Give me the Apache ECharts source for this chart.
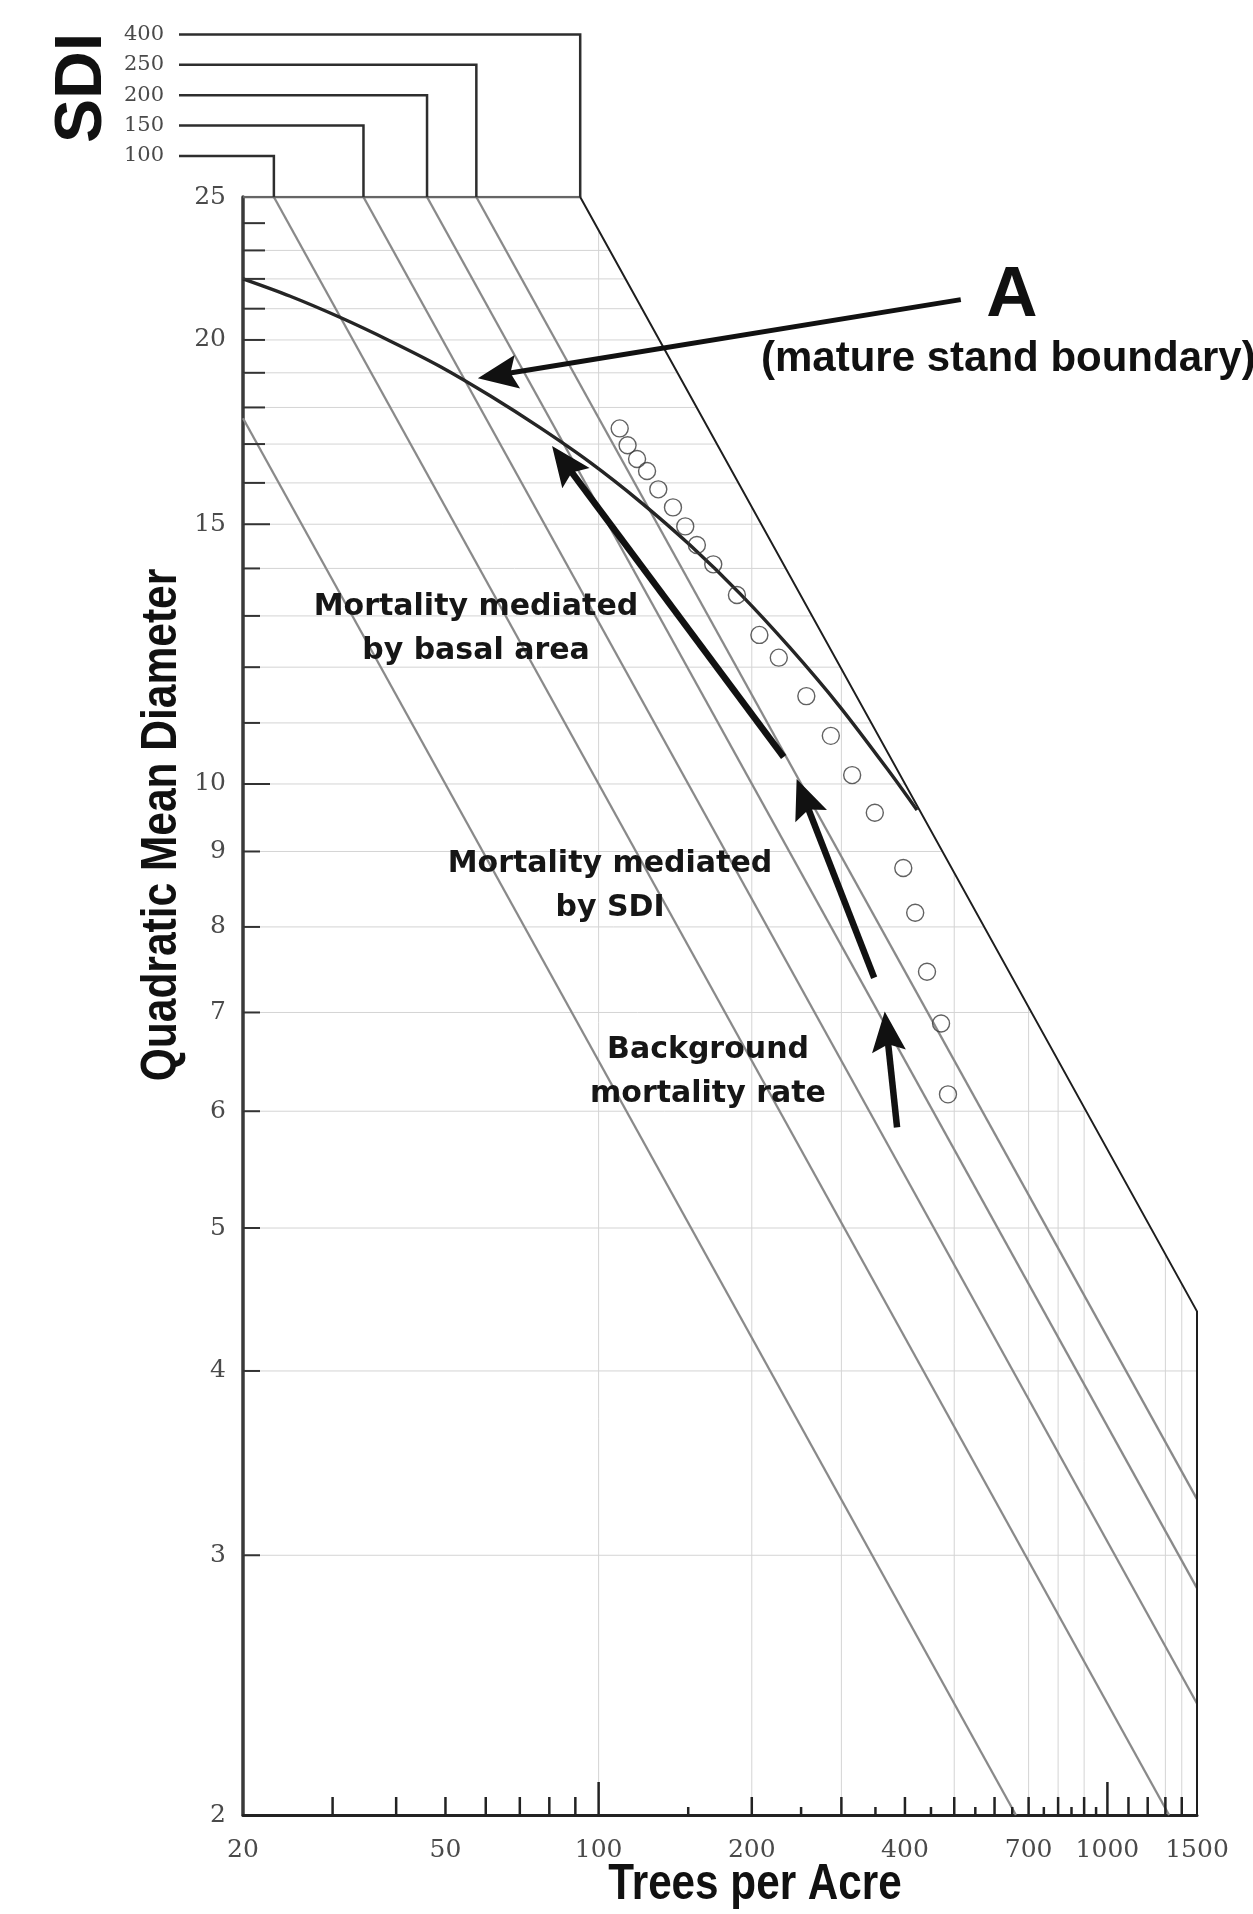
<!DOCTYPE html>
<html>
<head>
<meta charset="utf-8">
<title>SDI – Quadratic Mean Diameter vs Trees per Acre</title>
<script src="https://cdn.jsdelivr.net/npm/echarts@6.0.0/dist/echarts.min.js"></script>
<style>
html,body{margin:0;padding:0;background:#ffffff;}
#chart{width:1253px;height:1914px;}
</style>
</head>
<body>
<div id="chart"></div>
<script>
// ---------------- values ----------------
const xLabelValues = [20, 50, 100, 200, 400, 700, 1000, 1500];
const yLabelValues = [2, 3, 4, 5, 6, 7, 8, 9, 10, 15, 20, 25];
const xTicksMajor = [100, 1000];
const xTicksMid = [30, 40, 50, 60, 70, 80, 90, 200, 300, 400, 500, 600, 700, 800, 900, 1100, 1200, 1300, 1400];
const xTicksMinor = [150, 250, 350, 450, 550, 650, 750, 850, 950];
const yTicksLong = [10, 15];
const yTicksMid = [16, 17, 18, 19, 20, 21, 22, 23, 24];
const yTicksShort = [3, 4, 5, 6, 7, 8, 9, 11, 12, 13, 14];
const xGridValues = [100, 200, 300, 500, 700, 800, 900, 1300, 1400];
const yGridValues = [3, 4, 5, 6, 7, 8, 9, 10, 11, 12, 13, 14, 15, 16, 17, 18, 19, 20, 21, 22, 23];

// SDI legend (top) and the TPA where each SDI line meets QMD = 25
const sdiLegendValues = [100, 150, 200, 250, 400];
const sdiLegendTPA = [23, 34.5, 46, 57.5, 92];

// gray SDI reference lines (SDI 50, 100, 150, 200, 250): start / end points
const sdiLineStart = [[20, 17.7], [23, 25], [34.5, 25], [46, 25], [57.5, 25]];
const sdiLineEnd = [[661, 2], [1322, 2], [1500, 2.38], [1500, 2.85], [1500, 3.275]];

// maximum SDI (400) boundary and frame
const maxSdiBoundary = [[92, 25], [1500, 4.39], [1500, 2]];
const frameTop = [[20, 25], [92, 25]];

// curve A (mature stand boundary)
const matureBoundary = [[20, 22.0], [24.7, 21.42], [31.0, 20.72], [38.9, 19.97], [48.8, 19.19], [61.2, 18.33],
  [76.7, 17.44], [96.2, 16.52], [120.6, 15.54], [151.2, 14.52], [189.6, 13.46], [237.7, 12.37],
  [298.1, 11.28], [373.8, 10.18], [422.4, 9.60]];

// open circles (stand trajectory)
const standTPA = [110, 114, 119, 124.5, 131, 140, 148, 156, 168, 187, 207, 226, 256, 286, 315, 349, 397, 419, 442, 471, 486];
const standQMD = [17.42, 16.97, 16.61, 16.30, 15.84, 15.40, 14.95, 14.52, 14.09, 13.43, 12.62, 12.18, 11.47, 10.78, 10.14, 9.56, 8.77, 8.18, 7.46, 6.88, 6.16];

// annotation arrows: tail and tip (TPA, QMD)
const arrowTail = [[515, 21.3], [231, 10.43], [348, 7.39], [386, 5.85]];
const arrowTip = [[57.9, 18.84], [81, 16.95], [245, 10.08], [365, 7.01]];

// ---------------- helpers ----------------
const X_MIN = 20, X_MAX = 1500, Y_MIN = 2, Y_MAX = 25;
const SERIF = '"DejaVu Serif", "Liberation Serif", serif';

function boundaryTPAatQ(q) {
  const a = maxSdiBoundary[0], b = maxSdiBoundary[1];
  const t = (Math.log(q) - Math.log(a[1])) / (Math.log(b[1]) - Math.log(a[1]));
  return Math.exp(Math.log(a[0]) + t * (Math.log(b[0]) - Math.log(a[0])));
}
function boundaryQatTPA(tpa) {
  const a = maxSdiBoundary[0], b = maxSdiBoundary[1];
  const t = (Math.log(tpa) - Math.log(a[0])) / (Math.log(b[0]) - Math.log(a[0]));
  return Math.exp(Math.log(a[1]) + t * (Math.log(b[1]) - Math.log(a[1])));
}
function seg(api, a, b, style) {
  const p = api.coord(a), q = api.coord(b);
  return { type: 'line', shape: { x1: p[0], y1: p[1], x2: q[0], y2: q[1] }, style: style };
}
function customSeries(data, z, render, extra) {
  return Object.assign({
    type: 'custom', coordinateSystem: 'cartesian2d', silent: true, z: z,
    data: data, renderItem: render, animation: false
  }, extra || {});
}
function xTickSeries(values, len) {
  return customSeries(values.map(v => [v, Y_MIN]), 8, function (params, api) {
    const p = api.coord([api.value(0), Y_MIN]);
    return { type: 'line', shape: { x1: p[0], y1: p[1], x2: p[0], y2: p[1] - len },
      style: { stroke: '#222', lineWidth: 2.5 } };
  });
}
function yTickSeries(values, len) {
  return customSeries(values.map(v => [X_MIN, v]), 8, function (params, api) {
    const p = api.coord([X_MIN, api.value(1)]);
    return { type: 'line', shape: { x1: p[0], y1: p[1], x2: p[0] + len, y2: p[1] },
      style: { stroke: '#333', lineWidth: 2 } };
  });
}

const series = [
  // horizontal gridlines (clipped at the max-SDI boundary)
  customSeries(yGridValues.map(v => [X_MIN, v]), 1, function (params, api) {
    const q = api.value(1);
    const xe = Math.min(X_MAX, boundaryTPAatQ(q));
    return seg(api, [X_MIN, q], [xe, q], { stroke: '#d4d4d4', lineWidth: 1 });
  }),
  // vertical gridlines
  customSeries(xGridValues.map(v => [v, Y_MIN]), 1, function (params, api) {
    const t = api.value(0);
    const qe = Math.min(Y_MAX, boundaryQatTPA(t));
    return seg(api, [t, Y_MIN], [t, qe], { stroke: '#d4d4d4', lineWidth: 1 });
  }),
  // gray SDI lines
  customSeries(sdiLineStart.map((s, i) => [s[0], s[1], sdiLineEnd[i][0], sdiLineEnd[i][1]]), 2,
    function (params, api) {
      return seg(api, [api.value(0), api.value(1)], [api.value(2), api.value(3)],
        { stroke: '#8a8a8a', lineWidth: 2.3 });
    }, { dimensions: ['x', 'y', 'x2', 'y2'], encode: { x: 0, y: 1 } }),
  // frame top
  { type: 'line', data: frameTop, showSymbol: false, silent: true, z: 3, animation: false,
    lineStyle: { color: '#666', width: 2.5 } },
  // max SDI boundary + right frame
  { type: 'line', data: maxSdiBoundary, showSymbol: false, silent: true, z: 3, animation: false,
    lineStyle: { color: '#1e1e1e', width: 2 } },
  // curve A
  { type: 'line', data: matureBoundary, showSymbol: false, smooth: 0.3, silent: true, z: 4, animation: false,
    lineStyle: { color: '#252525', width: 3.4 } },
  // open circles
  { type: 'scatter', data: standTPA.map((t, i) => [t, standQMD[i]]), symbol: 'circle', symbolSize: 17,
    silent: true, z: 5, animation: false,
    itemStyle: { color: 'rgba(255,255,255,0)', borderColor: '#3a3a3a', borderWidth: 1.4 } },
  // arrows
  customSeries(arrowTail.map((t, i) => [t[0], t[1], arrowTip[i][0], arrowTip[i][1]]), 6,
    function (params, api) {
      const p1 = api.coord([api.value(0), api.value(1)]);
      const p2 = api.coord([api.value(2), api.value(3)]);
      const dx = p2[0] - p1[0], dy = p2[1] - p1[1];
      const len = Math.hypot(dx, dy);
      const ux = dx / len, uy = dy / len, nx = -uy, ny = ux;
      const L = 40, W = 17, notch = 7;
      const bx = p2[0] - ux * L, by = p2[1] - uy * L;
      const sx = p2[0] - ux * (L - notch), sy = p2[1] - uy * (L - notch);
      const lw = params.dataIndex === 0 ? 5 : 6.5;
      return { type: 'group', children: [
        { type: 'line', shape: { x1: p1[0], y1: p1[1], x2: sx + ux * 2, y2: sy + uy * 2 },
          style: { stroke: '#111', lineWidth: lw } },
        { type: 'polygon', shape: { points: [[p2[0], p2[1]], [bx + nx * W, by + ny * W], [sx, sy], [bx - nx * W, by - ny * W]] },
          style: { fill: '#111' } }
      ] };
    }, { dimensions: ['x', 'y', 'x2', 'y2'], encode: { x: 0, y: 1 } }),
  // ticks
  xTickSeries(xTicksMajor, 33),
  xTickSeries(xTicksMid, 18),
  xTickSeries(xTicksMinor, 8),
  yTickSeries(yTicksLong, 27),
  yTickSeries(yTicksMid, 22),
  yTickSeries(yTicksShort, 17),
  // x tick labels
  customSeries(xLabelValues.map(v => [v, Y_MIN]), 9, function (params, api) {
    const v = api.value(0);
    const p = api.coord([v, Y_MIN]);
    return { type: 'text', x: p[0], y: p[1] + 23,
      style: { text: String(v), font: '25px ' + SERIF, fill: '#4a4a4a', align: 'center', verticalAlign: 'top' } };
  }),
  // y tick labels
  customSeries(yLabelValues.map(v => [X_MIN, v]), 9, function (params, api) {
    const v = api.value(1);
    const p = api.coord([X_MIN, v]);
    return { type: 'text', x: p[0] - 17, y: p[1],
      style: { text: String(v), font: '25px ' + SERIF, fill: '#4a4a4a', align: 'right', verticalAlign: 'middle' } };
  }),
  // SDI legend above the plot
  customSeries(sdiLegendValues.map((s, i) => [sdiLegendTPA[i], Y_MAX, s]), 9, function (params, api) {
    const p = api.coord([api.value(0), Y_MAX]);
    const ly = p[1] - 41 - params.dataIndex * 30.4;
    const left = api.coord([X_MIN, Y_MAX])[0] - 64;
    return { type: 'group', children: [
      { type: 'polyline', shape: { points: [[left, ly], [p[0], ly], [p[0], p[1]]] },
        style: { stroke: '#2e2e2e', lineWidth: 2.5, fill: null } },
      { type: 'text', x: left - 15, y: ly,
        style: { text: String(api.value(2)), font: '21px ' + SERIF, fill: '#4a4a4a', align: 'right', verticalAlign: 'middle' } }
    ] };
  }, { dimensions: ['x', 'y', 'sdi'], encode: { x: 0, y: 1 } })
];

const ANNOT_FONT = 'bold 30px "DejaVu Sans", "Noto Sans", sans-serif';
const TITLE_FONT = 'bold 50px "Liberation Sans", Arial, sans-serif';

const option = {
  backgroundColor: '#ffffff',
  animation: false,
  grid: { left: 243, right: 56, top: 197, bottom: 99, containLabel: false },
  xAxis: {
    type: 'log', logBase: 10, min: X_MIN, max: X_MAX,
    axisLine: { show: true, onZero: false, lineStyle: { color: '#222', width: 3 } },
    axisTick: { show: false }, axisLabel: { show: false }, splitLine: { show: false }, minorTick: { show: false }
  },
  yAxis: {
    type: 'log', logBase: 10, min: Y_MIN, max: Y_MAX,
    axisLine: { show: true, onZero: false, lineStyle: { color: '#3a3a3a', width: 3.5 } },
    axisTick: { show: false }, axisLabel: { show: false }, splitLine: { show: false }, minorTick: { show: false }
  },
  series: series,
  graphic: [
    { type: 'text', x: 83, y: 88, rotation: Math.PI / 2, z: 20,
      style: { text: 'SDI', font: 'bold 66px "Liberation Sans", Arial, sans-serif', fill: '#111', align: 'center', verticalAlign: 'middle' } },
    { type: 'text', x: 162, y: 825, rotation: Math.PI / 2, scaleX: 0.85, z: 20,
      style: { text: 'Quadratic Mean Diameter', font: TITLE_FONT, fill: '#111', align: 'center', verticalAlign: 'middle' } },
    { type: 'text', x: 755, y: 1885, scaleX: 0.845, z: 20,
      style: { text: 'Trees per Acre', font: TITLE_FONT, fill: '#111', align: 'center', verticalAlign: 'middle' } },
    { type: 'text', x: 1012, y: 296, z: 20,
      style: { text: 'A', font: 'bold 71px "Liberation Sans", Arial, sans-serif', fill: '#111', align: 'center', verticalAlign: 'middle' } },
    { type: 'text', x: 761, y: 359, z: 20,
      style: { text: '(mature stand boundary)', font: 'bold 42px "Liberation Sans", Arial, sans-serif', fill: '#111', align: 'left', verticalAlign: 'middle' } },
    { type: 'text', x: 476, y: 629, z: 20,
      style: { text: 'Mortality mediated\nby basal area', font: ANNOT_FONT, lineHeight: 44, fill: '#161616', align: 'center', verticalAlign: 'middle' } },
    { type: 'text', x: 610, y: 886, z: 20,
      style: { text: 'Mortality mediated\nby SDI', font: ANNOT_FONT, lineHeight: 44, fill: '#161616', align: 'center', verticalAlign: 'middle' } },
    { type: 'text', x: 708, y: 1072, z: 20,
      style: { text: 'Background\nmortality rate', font: ANNOT_FONT, lineHeight: 44, fill: '#161616', align: 'center', verticalAlign: 'middle' } }
  ]
};

const chart = echarts.init(document.getElementById('chart'), null, { renderer: 'canvas', width: 1253, height: 1914 });
chart.setOption(option);
</script>
</body>
</html>
